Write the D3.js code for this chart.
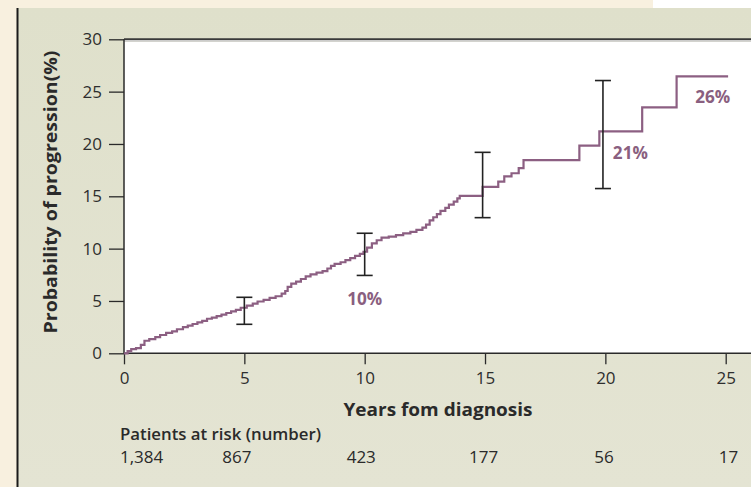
<!DOCTYPE html>
<html>
<head>
<meta charset="utf-8">
<script src="https://cdn.jsdelivr.net/npm/d3@7/dist/d3.min.js"></script>
<style>
  html, body { margin: 0; padding: 0; background: #f8f0df; }
  svg { display: block; }
  text { font-family: "Open Sans", "Noto Sans", sans-serif; }
</style>
</head>
<body>
<svg id="chart" width="751" height="487"></svg>
<script>
// Cumulative probability of progression (%), step changes by year
const stepYears = [0, 0.15, 0.3, 0.5, 0.7, 0.85, 1.05, 1.3, 1.5, 1.75, 2.0, 2.2, 2.45, 2.65, 2.85,
  3.05, 3.25, 3.45, 3.65, 3.85, 4.05, 4.25, 4.45, 4.65, 4.85, 5.1, 5.35, 5.55, 5.8, 6.05,
  6.3, 6.55, 6.7, 6.8, 6.95, 7.15, 7.35, 7.55, 7.75, 8.0, 8.25, 8.45, 8.6, 8.75, 9.0,
  9.2, 9.4, 9.6, 9.8, 9.95, 10.1, 10.3, 10.5, 10.7, 11.0, 11.3, 11.6, 11.9, 12.15, 12.4,
  12.55, 12.7, 12.85, 13.0, 13.15, 13.35, 13.5, 13.7, 13.85, 13.95, 14.9, 15.55, 15.8, 16.1,
  16.4, 16.6, 18.92, 19.75, 21.53, 22.96, 25.1];
const progression = [0, 0.2, 0.4, 0.5, 0.8, 1.2, 1.35, 1.55, 1.75, 1.95, 2.1, 2.3, 2.5, 2.65, 2.8,
  2.95, 3.1, 3.3, 3.4, 3.55, 3.7, 3.85, 4.0, 4.15, 4.35, 4.55, 4.75, 4.95, 5.1, 5.3,
  5.45, 5.7, 5.95, 6.35, 6.65, 6.85, 7.1, 7.35, 7.55, 7.7, 7.85, 8.1, 8.35, 8.55, 8.7,
  8.9, 9.1, 9.3, 9.5, 9.7, 10.1, 10.5, 10.8, 11.05, 11.15, 11.3, 11.45, 11.6, 11.8, 12.0,
  12.3, 12.7, 13.0, 13.3, 13.6, 13.9, 14.2, 14.5, 14.8, 15.05, 15.9, 16.4, 16.9, 17.2,
  17.7, 18.45, 19.85, 21.2, 23.5, 26.45, 26.45];

// 95% confidence intervals
const ciYears = [5, 10, 14.9, 19.9];
const ciLow = [2.77, 7.44, 12.96, 15.74];
const ciHigh = [5.35, 11.47, 19.2, 26.06];

// Years annotated with their estimate
const labelYears = [10, 20, 25];

// Axis ticks and number at risk
const xTicks = [0, 5, 10, 15, 20, 25];
const yTicks = [0, 5, 10, 15, 20, 25, 30];
const atRisk = ["1,384", "867", "423", "177", "56", "17"];

const svg = d3.select("#chart");
const W = 751, H = 487;
const ink = "#2a2a2a";
const fontStack = '"Open Sans", "Noto Sans", sans-serif';

// Backgrounds
svg.append("rect").attr("x", 0).attr("y", 0).attr("width", W).attr("height", H).attr("fill", "#f8f0df");
svg.append("rect").attr("x", 653).attr("y", 0).attr("width", W - 653).attr("height", 9).attr("fill", "#ffffff");
const defs = svg.append("defs");
const grad = defs.append("linearGradient").attr("id", "panelGrad").attr("x1", 0).attr("y1", 0).attr("x2", 0).attr("y2", 1);
grad.append("stop").attr("offset", "0%").attr("stop-color", "#dfe0cb");
grad.append("stop").attr("offset", "100%").attr("stop-color", "#e4e4d3");
svg.append("rect").attr("x", 17).attr("y", 8).attr("width", W - 17).attr("height", H - 8).attr("fill", "url(#panelGrad)");
svg.append("line").attr("x1", 17.5).attr("x2", 17.5).attr("y1", 8).attr("y2", H)
  .attr("stroke", "#1a1a1a").attr("stroke-width", 2);

const x = d3.scaleLinear().domain([0, 25]).range([124, 725.7]);
const y = d3.scaleLinear().domain([0, 30]).range([353.3, 39.3]);

// Plot area
svg.append("rect").attr("x", x(0)).attr("y", y(30)).attr("width", W - x(0)).attr("height", y(0) - y(30))
  .attr("fill", "#ffffff");
svg.append("line").attr("x1", x(0)).attr("x2", W).attr("y1", y(30)).attr("y2", y(30))
  .attr("stroke", "#3a3a3a").attr("stroke-width", 2);
svg.append("line").attr("x1", x(0)).attr("x2", W).attr("y1", y(30) + 2).attr("y2", y(30) + 2)
  .attr("stroke", "#c9c9c2").attr("stroke-width", 1);

// Axes
const yAxis = svg.append("g").attr("transform", `translate(${x(0)},0)`)
  .call(d3.axisLeft(y).tickValues(yTicks).tickSize(15).tickPadding(7));
const xAxis = svg.append("g").attr("transform", `translate(0,${y(0)})`)
  .call(d3.axisBottom(x).tickValues(xTicks).tickSize(11).tickPadding(8));
[yAxis, xAxis].forEach(g => {
  g.attr("font-family", fontStack).attr("font-size", 17);
  g.select(".domain").remove();
  g.selectAll(".tick line").attr("stroke", ink).attr("stroke-width", 1.3);
  g.selectAll(".tick text").attr("fill", "#2e2e2e");
});
svg.append("line").attr("x1", x(0)).attr("x2", x(0)).attr("y1", y(30)).attr("y2", y(0))
  .attr("stroke", ink).attr("stroke-width", 1.5);
svg.append("line").attr("x1", x(0)).attr("x2", W).attr("y1", y(0)).attr("y2", y(0))
  .attr("stroke", ink).attr("stroke-width", 1.5);

// Axis titles
svg.append("text").attr("transform", "translate(57,192) rotate(-90)")
  .attr("text-anchor", "middle").attr("fill", ink)
  .style("font-size", "17px").style("font-weight", "700")
  .attr("textLength", 283).attr("lengthAdjust", "spacingAndGlyphs")
  .text("Probability of progression(%)");
svg.append("text").attr("x", 438).attr("y", 416).attr("text-anchor", "middle").attr("fill", ink)
  .style("font-size", "17px").style("font-weight", "700")
  .attr("textLength", 189).attr("lengthAdjust", "spacingAndGlyphs")
  .text("Years fom diagnosis");
svg.append("text").attr("x", 120).attr("y", 440).attr("fill", ink)
  .style("font-size", "16px").style("font-weight", "600")
  .attr("textLength", 201).attr("lengthAdjust", "spacingAndGlyphs")
  .text("Patients at risk (number)");
const riskShift = [-4, -22, -18, -16, -11, -7];
svg.append("g").selectAll("text").data(atRisk).join("text")
  .attr("x", (d, i) => x(xTicks[i]) + riskShift[i])
  .attr("y", 463).attr("fill", ink).style("font-size", "17px")
  .text(d => d);

// Step curve
const pts = stepYears.map((t, i) => [t, progression[i]]);
const line = d3.line().x(d => x(d[0])).y(d => y(d[1])).curve(d3.curveStepAfter);
const curveColor = "#8c5f82";
svg.append("path").datum(pts).attr("d", line).attr("fill", "none")
  .attr("stroke", curveColor).attr("stroke-width", 2.2).attr("stroke-linejoin", "miter");

// Confidence interval bars
const ci = svg.append("g").attr("stroke", "#222").attr("stroke-width", 1.6);
ciYears.forEach((t, i) => {
  ci.append("line").attr("x1", x(t)).attr("x2", x(t)).attr("y1", y(ciLow[i])).attr("y2", y(ciHigh[i]));
  [ciLow[i], ciHigh[i]].forEach(v => {
    ci.append("line").attr("x1", x(t) - 8).attr("x2", x(t) + 8).attr("y1", y(v)).attr("y2", y(v));
  });
});

// Estimate labels read from the step function
function valueAt(t) {
  const idx = d3.bisectRight(stepYears, t) - 1;
  return progression[Math.max(0, idx)];
}
const labelOffsets = [[0, 53], [25, 28], [-13, 27]];
labelYears.forEach((t, i) => {
  const v = valueAt(t);
  svg.append("text").attr("x", x(t) + labelOffsets[i][0]).attr("y", y(v) + labelOffsets[i][1])
    .attr("text-anchor", "middle").attr("fill", "#8a5f80")
    .style("font-size", "17px").style("font-weight", "700")
    .attr("textLength", 35).attr("lengthAdjust", "spacingAndGlyphs")
    .text(d3.format(".0f")(v) + "%");
});
</script>
</body>
</html>
